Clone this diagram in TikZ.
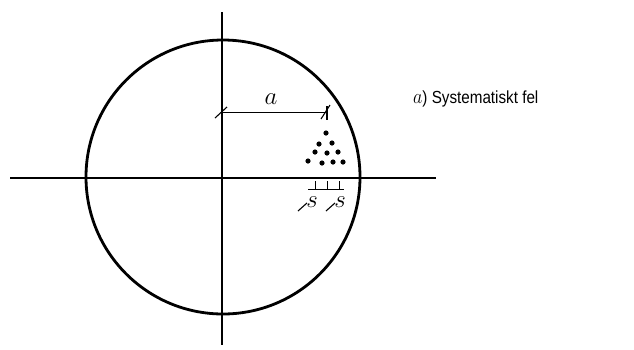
\documentclass[tikz,border=0pt]{standalone}
\usepackage{fontspec}
\setsansfont{Liberation Sans}
\usetikzlibrary{positioning}
\tikzset{
  axis/.style={draw=black,line width=1.2pt},
  rim/.style={draw=black,line width=2.8pt},
  dim/.style={draw=black,line width=1pt},
  tick/.style={draw=black,line width=1.1pt},
  shot/.style={circle,fill=black,inner sep=0pt,minimum size=5.2pt},
  dimlabel/.style={font=\fontsize{31}{33}\selectfont,inner sep=0pt},
  caption/.style={font=\sffamily\fontsize{17.5}{19}\selectfont,anchor=base west,inner sep=0pt},
}
\begin{document}
\begin{tikzpicture}[x=1pt,y=-1pt]
\useasboundingbox (0,0) rectangle (634,349);
% axes and target circle
\coordinate (o) at (223,177);
\draw[axis] (10,178) -- (436,178);
\draw[axis] (222,12) -- (222,345);
\draw[rim] (o) circle (137);
% dimension a
\coordinate (da) at (222,112);\coordinate (db) at (327,112);
\draw[dim] (da) -- (db);
\draw[tick] (215,118) -- (227,107);\draw[tick] (321,119) -- (330,105);
\draw[tick] (327,106) -- (327,120);
\node[dimlabel] (lbla) at (271,99) {$a$};
% spread of the hits
\foreach \x/\y in {326/133,319/144,332/143,315/152,327/153,338/152,308/161,322/163,333/162,343/162}
  \node[shot] at (\x,\y) {};
% spread markers
\draw[dim] (308,189) -- (344,189);
\foreach \x in {315,327,339}\draw[dim] (\x,181) -- (\x,189);
\draw[tick] (298,211) -- (307,203);\node[dimlabel] (s1) at (312,202) {$s$};
\draw[tick] (326,211) -- (335,203);\node[dimlabel] (s2) at (340,202) {$s$};
\node[caption] (cap) at (413,103) {\scalebox{0.87}[1]{{\fontsize{21}{21}\selectfont$a$}) Systematiskt fel}};
\end{tikzpicture}
\end{document}
